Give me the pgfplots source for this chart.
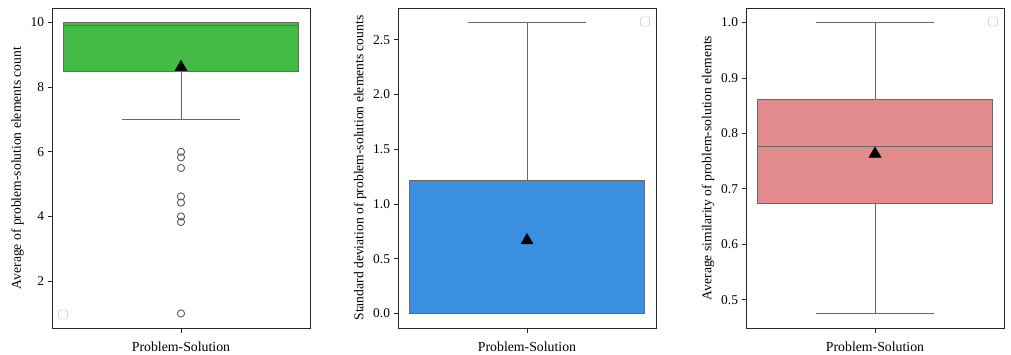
\documentclass[border=0pt]{standalone}
\usepackage{pgfplots}
\pgfplotsset{compat=1.18}
\usepackage{fontspec}
\setmainfont{Liberation Serif}
\definecolor{bgreen}{RGB}{68,187,68}
\definecolor{bblue}{RGB}{58,143,224}
\definecolor{bred}{RGB}{225,139,140}
\definecolor{edge}{RGB}{105,105,105}
\tikzset{emptyleg/.style={draw=black!15, rounded corners=1.5pt, minimum size=9pt, inner sep=0pt, line width=0.8pt}}
\pgfplotsset{
  panel/.style={
    scale only axis, width=258pt, height=320pt,
    xmin=-0.5, xmax=0.5, xtick={0}, xticklabels={Problem-Solution},
    tick align=outside, major tick length=4.5pt,
    tick style={black!85, line width=0.7pt},
    axis line style={black!85, line width=0.8pt},
    xtick pos=bottom, ytick pos=left,
    /pgf/number format/assume math mode=true,
    tick label style={font=\fontsize{13.4}{15}\selectfont},
    xticklabel style={font=\fontsize{13.8}{15}\selectfont, yshift=-5.5pt},
    label style={font=\fontsize{13.6}{15}\selectfont},
    clip=false,
  },
  boxs/.style={draw=edge, line width=0.9pt},
  whisk/.style={edge, line width=0.9pt, no marks},
  meanm/.style={only marks, mark=triangle*, mark size=7pt, black},
  outl/.style={only marks, mark=o, mark size=3.6pt, black!65, mark options={line width=0.9pt}},
}
\begin{document}
\begin{tikzpicture}
% Panel 1
\begin{axis}[panel, at={(52pt,26pt)}, anchor=south west,
  ymin=0.55, ymax=10.45, ytick={2,4,6,8,10},
  ylabel={Average of problem-solution elements count}]
\addplot[whisk] coordinates {(0,7.0) (0,8.48)};
\addplot[whisk] coordinates {(-0.23,7.0) (0.23,7.0)};
\addplot[whisk] coordinates {(-0.23,10.0) (0.23,10.0)};
\addplot[boxs, fill=bgreen] coordinates {(-0.455,8.48) (0.455,8.48) (0.455,10.0) (-0.455,10.0)} -- cycle;
\addplot[whisk] coordinates {(-0.455,9.92) (0.455,9.92)};
\addplot[outl] coordinates {(0,6.0) (0,5.83) (0,5.5) (0,4.62) (0,4.43) (0,4.0) (0,3.83) (0,1.0)};
\addplot[meanm] coordinates {(0,8.62)};
\node[emptyleg] at (rel axis cs:0.043,0.042) {};
\end{axis}
% Panel 2
\begin{axis}[panel, at={(398pt,26pt)}, anchor=south west,
  ymin=-0.133, ymax=2.79, ytick={0,0.5,1.0,1.5,2.0,2.5},
  yticklabel style={/pgf/number format/.cd, fixed, fixed zerofill, precision=1},
  ylabel={Standard deviation of problem-solution elements counts}]
\addplot[whisk] coordinates {(0,1.215) (0,2.66)};
\addplot[whisk] coordinates {(-0.23,2.66) (0.23,2.66)};
\addplot[boxs, fill=bblue] coordinates {(-0.455,0) (0.455,0) (0.455,1.215) (-0.455,1.215)} -- cycle;
\addplot[whisk] coordinates {(-0.23,0) (0.23,0)};
\addplot[meanm] coordinates {(0,0.667)};
\node[emptyleg] at (rel axis cs:0.957,0.958) {};
\end{axis}
% Panel 3
\begin{axis}[panel, at={(746pt,26pt)}, anchor=south west,
  ymin=0.449, ymax=1.026, ytick={0.5,0.6,0.7,0.8,0.9,1.0},
  yticklabel style={/pgf/number format/.cd, fixed, fixed zerofill, precision=1},
  ylabel={Average similarity of problem-solution elements}]
\addplot[whisk] coordinates {(0,0.475) (0,0.673)};
\addplot[whisk] coordinates {(0,0.862) (0,1.0)};
\addplot[whisk] coordinates {(-0.23,0.475) (0.23,0.475)};
\addplot[whisk] coordinates {(-0.23,1.0) (0.23,1.0)};
\addplot[boxs, fill=bred] coordinates {(-0.455,0.673) (0.455,0.673) (0.455,0.862) (-0.455,0.862)} -- cycle;
\addplot[whisk] coordinates {(-0.455,0.776) (0.455,0.776)};
\addplot[meanm] coordinates {(0,0.763)};
\node[emptyleg] at (rel axis cs:0.957,0.958) {};
\end{axis}
\pgfresetboundingbox
\path[use as bounding box] (0,0) rectangle (1011pt,354pt);
\end{tikzpicture}
\end{document}
